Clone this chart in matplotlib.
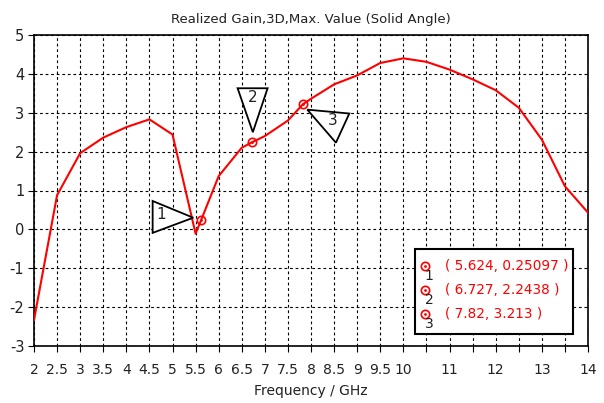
import matplotlib.pyplot as plt
from matplotlib.patches import Polygon, Rectangle

plt.rcParams['axes.unicode_minus'] = False

# curve
freq = [2.0, 2.5, 3.0, 3.5, 4.0, 4.5, 5.0, 5.5, 5.624, 6.0, 6.5, 6.727, 7.0, 7.5, 7.82,
        8.0, 8.5, 9.0, 9.5, 10.0, 10.5, 11.0, 11.5, 12.0, 12.5, 13.0, 13.5, 14.0]
gain = [-2.33, 0.88, 1.96, 2.36, 2.63, 2.83, 2.44, -0.11, 0.251, 1.37, 2.1, 2.2438, 2.4, 2.8, 3.213,
        3.36, 3.73, 3.96, 4.28, 4.40, 4.31, 4.11, 3.86, 3.58, 3.13, 2.31, 1.11, 0.43]

mark_x = [5.624, 6.727, 7.82]
mark_y = [0.25097, 2.2438, 3.213]
mark_txt = ['( 5.624, 0.25097 )', '( 6.727, 2.2438 )', '( 7.82, 3.213 )']

xticks = [2, 2.5, 3, 3.5, 4, 4.5, 5, 5.5, 6, 6.5, 7, 7.5, 8, 8.5, 9, 9.5, 10,
          10.5, 11, 11.5, 12, 12.5, 13, 13.5, 14]
xlabels = ['2', '2.5', '3', '3.5', '4', '4.5', '5', '5.5', '6', '6.5', '7', '7.5', '8', '8.5',
           '9', '9.5', '10', '', '11', '', '12', '', '13', '', '14']

fig = plt.figure(figsize=(6.04, 4.03), dpi=100)
ax = fig.add_axes([34 / 604, 1 - 346 / 403, 554 / 604, 311 / 403])

ax.plot(freq, gain, color='red', lw=1.5, zorder=3)
ax.plot(mark_x, mark_y, 'o', mfc='none', mec='red', ms=6, mew=1.2, zorder=4)
ax.plot(mark_x, mark_y, '.', color='red', ms=2, zorder=4)

ax.set_xlim(2, 14)
ax.set_ylim(-3, 5)
ax.set_xticks(xticks)
ax.set_xticklabels(xlabels)
ax.set_yticks(range(-3, 6))
ax.grid(True, color='black', ls=(0, (2.5, 2.5)), lw=0.8)
ax.tick_params(direction='out', length=4, labelsize=10, pad=8, labelcolor='#222222')
ax.tick_params(axis='y', pad=3, labelsize=10.5)
for s in ax.spines.values():
    s.set_linewidth(1.2)

ax.set_title('Realized Gain,3D,Max. Value (Solid Angle)', fontsize=9.5, color='#222222', pad=9)
ax.set_xlabel('Frequency / GHz', fontsize=10, color='#222222', labelpad=5)

# marker flags, placed in data coords near each marker
flags = [
    ([(4.57, 0.73), (4.57, -0.09), (5.45, 0.30)], (4.75, 0.38), '1'),
    ([(6.41, 3.63), (7.06, 3.63), (6.74, 2.50)], (6.74, 3.4), '2'),
    ([(7.92, 3.08), (8.83, 2.98), (8.54, 2.23)], (8.48, 2.80), '3'),
]
for pts, lp, t in flags:
    ax.add_patch(Polygon(pts, closed=True, fc='white', ec='black', lw=1.3, zorder=5))
    ax.text(lp[0], lp[1], t, fontsize=11, ha='center', va='center', color='#222222', zorder=6)

# marker table box
box_x0, box_x1 = 10.26, 13.68
box_y0, box_y1 = -2.70, -0.51
ax.add_patch(Rectangle((box_x0, box_y0), box_x1 - box_x0, box_y1 - box_y0,
                       fc='white', ec='black', lw=1.5, zorder=5))
for i, t in enumerate(mark_txt):
    yy = -0.93 - i * 0.62
    ax.plot(10.47, yy, 'o', mfc='none', mec='red', ms=6, mew=1.2, zorder=6)
    ax.plot(10.47, yy, '.', color='red', ms=2, zorder=6)
    ax.text(10.56, yy - 0.27, str(i + 1), fontsize=10, ha='center', va='center', color='#222222', zorder=6)
    ax.text(10.9, yy, t, fontsize=9.8, color='red', va='center', zorder=6)

fig.savefig('out.png', dpi=100)
